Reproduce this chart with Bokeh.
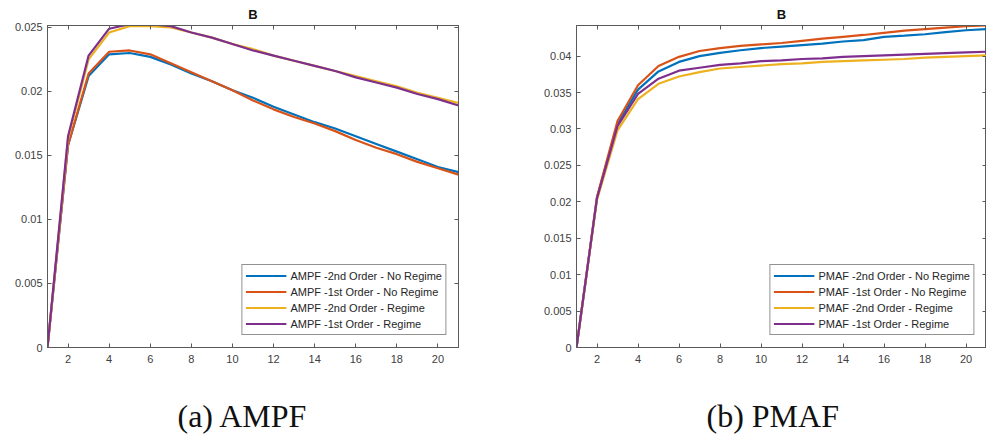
from bokeh.plotting import figure
from bokeh.layouts import row
from bokeh.models import (Range1d, FixedTicker, LinearAxis, Title, Legend, LegendItem)
from bokeh.embed import file_html
from bokeh.resources import INLINE

steps = list(range(1, 22))

ampf_2nd_noreg = [0, 0.0158, 0.0212, 0.0229, 0.0230, 0.0227, 0.0221, 0.0214, 0.0208, 0.0201, 0.0195,
                  0.0188, 0.0182, 0.0176, 0.0171, 0.0165, 0.0159, 0.0153, 0.0147, 0.0141, 0.0137]
ampf_1st_noreg = [0, 0.0158, 0.0214, 0.0231, 0.0232, 0.0229, 0.0222, 0.0215, 0.0208, 0.0201, 0.0193,
                  0.0186, 0.0180, 0.0175, 0.0169, 0.0162, 0.0156, 0.0151, 0.0145, 0.0140, 0.0135]
ampf_2nd_reg = [0, 0.0163, 0.0225, 0.0246, 0.0251, 0.0251, 0.0250, 0.0246, 0.0242, 0.0237, 0.0233,
                0.0228, 0.0224, 0.0220, 0.0216, 0.0212, 0.0208, 0.0204, 0.0199, 0.0195, 0.0191]
ampf_1st_reg = [0, 0.0165, 0.0228, 0.0249, 0.02525, 0.02525, 0.0251, 0.0246, 0.0242, 0.0237, 0.0232,
                0.0228, 0.0224, 0.0220, 0.0216, 0.0211, 0.0207, 0.0203, 0.0198, 0.0194, 0.0189]

pmaf_2nd_noreg = [0, 0.0205, 0.0307, 0.0354, 0.0379, 0.0392, 0.0400, 0.04045, 0.0408, 0.0411, 0.0413,
                  0.0415, 0.0417, 0.0420, 0.0422, 0.04265, 0.0428, 0.0430, 0.0433, 0.04355, 0.0437]
pmaf_1st_noreg = [0, 0.0207, 0.0311, 0.0360, 0.03865, 0.0399, 0.0407, 0.0411, 0.0414, 0.0416, 0.0418,
                  0.0421, 0.0424, 0.04265, 0.0429, 0.0432, 0.0435, 0.0437, 0.0439, 0.0441, 0.0442]
pmaf_2nd_reg = [0, 0.0203, 0.0298, 0.0341, 0.0362, 0.0372, 0.0378, 0.0383, 0.0385, 0.0387, 0.0389,
                0.0390, 0.0392, 0.0393, 0.0394, 0.0395, 0.0396, 0.0398, 0.0399, 0.0400, 0.0401]
pmaf_1st_reg = [0, 0.0205, 0.0304, 0.0348, 0.0369, 0.0380, 0.0384, 0.0388, 0.0390, 0.0393, 0.0394,
                0.0396, 0.0397, 0.0399, 0.0400, 0.0401, 0.0402, 0.0403, 0.0404, 0.0405, 0.0406]

x_ticks = [2, 4, 6, 8, 10, 12, 14, 16, 18, 20]
ampf_y_ticks = [0, 0.005, 0.01, 0.015, 0.02, 0.025]
ampf_y_labels = ["0", "0.005", "0.01", "0.015", "0.02", "0.025"]
pmaf_y_ticks = [0, 0.005, 0.01, 0.015, 0.02, 0.025, 0.03, 0.035, 0.04]
pmaf_y_labels = ["0", "0.005", "0.01", "0.015", "0.02", "0.025", "0.03", "0.035", "0.04"]

colors = ["#0072BD", "#D95319", "#EDB120", "#7E2F8E"]
suffixes = [" -2nd Order - No Regime", " -1st Order - No Regime",
            " -2nd Order - Regime", " -1st Order - Regime"]

AX = "#5a5a5a"
TXT = "#404040"
FONT = "Liberation Sans"


def make_panel(name, series, yticks, ylabels, ytop, caption, bl, br, bt):
    p = figure(width=493, height=441, output_backend="svg", toolbar_location=None,
               x_range=Range1d(1, 21), y_range=Range1d(0, ytop),
               min_border_left=bl, min_border_right=br, min_border_top=bt,
               min_border_bottom=94, x_axis_type=None, y_axis_type=None)
    p.title.text = "B"
    p.title.align = "center"
    p.title.text_font = FONT
    p.title.text_font_size = "13px"
    p.title.text_font_style = "bold"
    p.title.text_color = "#111111"
    p.title.standoff = 8
    p.grid.visible = False
    p.outline_line_color = AX
    p.outline_line_width = 1
    p.background_fill_color = "white"
    p.border_fill_color = "white"

    overrides = {t: l for t, l in zip(yticks, ylabels)}
    for loc, labelled in (("below", True), ("left", True), ("above", False), ("right", False)):
        ax = LinearAxis()
        if loc in ("below", "above"):
            ax.ticker = FixedTicker(ticks=x_ticks)
        else:
            ax.ticker = FixedTicker(ticks=yticks)
            ax.major_label_overrides = overrides
        ax.major_tick_in = 4
        ax.major_tick_out = 0
        ax.minor_tick_in = 0
        ax.minor_tick_out = 0
        ax.axis_line_color = AX
        ax.major_tick_line_color = AX
        ax.major_label_text_font = FONT
        ax.major_label_text_font_size = "11px"
        ax.major_label_text_color = TXT
        ax.major_label_standoff = 7 if loc == "below" else 5
        if not labelled:
            ax.major_label_text_alpha = 0
            ax.major_label_text_font_size = "1px"
            ax.major_label_standoff = 0
        p.add_layout(ax, loc)

    items = []
    for s, c, suf in zip(series, colors, suffixes):
        r = p.line(steps, s, line_color=c, line_width=2.2)
        items.append(LegendItem(label=name + suf, renderers=[r]))

    leg = Legend(items=items, location="bottom_right", margin=12, padding=3, spacing=1,
                 label_height=15, glyph_height=15, glyph_width=41, label_standoff=4,
                 label_text_font=FONT, label_text_font_size="11px", label_text_color="#262626",
                 border_line_color="#262626", border_line_width=1, background_fill_alpha=1)
    p.add_layout(leg, "center")

    spacer = Title(text=" ", text_font_size="1px", standoff=19)
    p.add_layout(spacer, "below")
    cap = Title(text=caption, align="left", text_font="Liberation Serif",
                text_font_size="32px", text_font_style="normal", text_color="#111111",
                standoff=16, offset=130)
    p.add_layout(cap, "below")
    return p


p1 = make_panel("AMPF", [ampf_2nd_noreg, ampf_1st_noreg, ampf_2nd_reg, ampf_1st_reg],
                ampf_y_ticks, ampf_y_labels, 0.02515, "(a) AMPF", 47, 35, 25)
p2 = make_panel("PMAF", [pmaf_2nd_noreg, pmaf_1st_noreg, pmaf_2nd_reg, pmaf_1st_reg],
                pmaf_y_ticks, pmaf_y_labels, 0.0442, "(b) PMAF", 83, 0, 21)

layout = row(p1, p2, spacing=0)
open("out.html", "w").write(file_html(layout, INLINE))
